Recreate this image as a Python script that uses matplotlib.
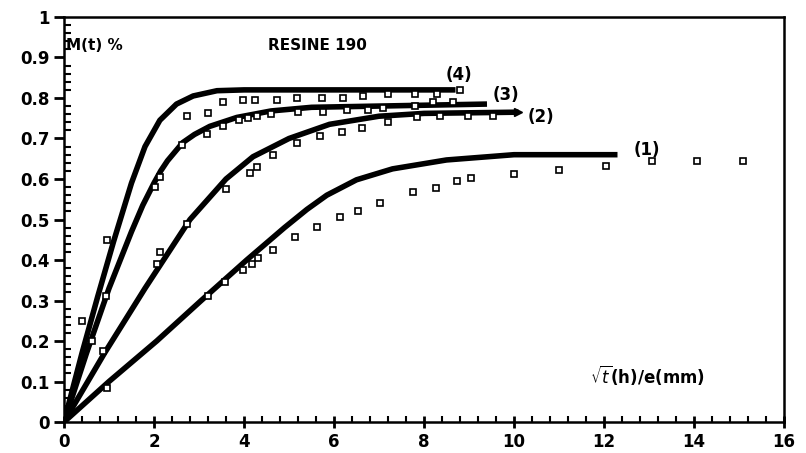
import numpy as np
import matplotlib

matplotlib.use("Agg")
import matplotlib.pyplot as plt
from matplotlib.ticker import MultipleLocator

# fitted curves
c1_x = [0, 1.0, 2.06, 3.05, 4.06, 4.9, 5.4, 5.84, 6.5, 7.3, 8.5, 10.0, 12.3]
c1_y = [0, 0.1, 0.2, 0.3, 0.4, 0.48, 0.525, 0.56, 0.598, 0.625, 0.647, 0.66, 0.66]
c2_x = [0, 0.9, 1.8, 2.3, 2.8, 3.6, 4.2, 5.0, 5.9, 7.0, 8.0, 10.1]
c2_y = [0, 0.17, 0.33, 0.415, 0.5, 0.6, 0.655, 0.7, 0.735, 0.755, 0.762, 0.765]
c3_x = [0, 0.5, 1.0, 1.5, 1.75, 2.0, 2.15, 2.3, 2.64, 2.9, 3.24, 3.84, 4.6, 5.5, 9.4]
c3_y = [0, 0.17, 0.33, 0.47, 0.535, 0.59, 0.62, 0.645, 0.69, 0.71, 0.73, 0.752, 0.768, 0.777, 0.785]
c4_x = [0, 0.4, 0.75, 1.1, 1.5, 1.8, 2.13, 2.5, 2.87, 3.4, 4.0, 8.7]
c4_y = [0, 0.17, 0.31, 0.445, 0.59, 0.68, 0.745, 0.785, 0.805, 0.818, 0.82, 0.82]

# measured points
p1_x = [0.95, 3.2, 3.58, 3.98, 4.18, 4.31, 4.65, 5.13, 5.62, 6.13, 6.53, 7.02,
        7.76, 8.27, 8.73, 9.04, 10.0, 11.0, 12.04, 13.07, 14.07, 15.09]
p1_y = [0.085, 0.31, 0.345, 0.375, 0.39, 0.405, 0.425, 0.457, 0.482, 0.507, 0.52, 0.54,
        0.568, 0.578, 0.596, 0.603, 0.613, 0.623, 0.632, 0.645, 0.645, 0.645]
p2_x = [0.87, 2.07, 2.13, 2.73, 3.6, 4.13, 4.3, 4.65, 5.18, 5.69, 6.18, 6.63,
        7.2, 7.84, 8.36, 8.98, 9.53]
p2_y = [0.175, 0.39, 0.42, 0.49, 0.575, 0.615, 0.63, 0.66, 0.69, 0.705, 0.717, 0.725,
        0.74, 0.754, 0.755, 0.755, 0.755]
p3_x = [0.62, 0.93, 2.02, 2.13, 2.62, 3.18, 3.53, 3.9, 4.1, 4.3, 4.6, 5.2, 5.75,
        6.3, 6.75, 7.1, 7.8, 8.2, 8.64]
p3_y = [0.2, 0.31, 0.58, 0.605, 0.685, 0.71, 0.73, 0.745, 0.75, 0.755, 0.76, 0.765, 0.765,
        0.77, 0.77, 0.775, 0.78, 0.79, 0.79]
p4_x = [0.4, 0.96, 2.73, 3.2, 3.54, 3.98, 4.24, 4.73, 5.18, 5.73, 6.2, 6.64,
        7.2, 7.8, 8.3, 8.8]
p4_y = [0.25, 0.45, 0.755, 0.763, 0.79, 0.795, 0.795, 0.795, 0.8, 0.8, 0.8, 0.805,
        0.81, 0.81, 0.81, 0.82]

labels = ["(1)", "(2)", "(3)", "(4)"]
label_pos = [(12.65, 0.672), (10.3, 0.754), (9.53, 0.808), (8.47, 0.857)]

fig = plt.figure(figsize=(8.06, 4.53), dpi=100)
ax = fig.add_axes([0.0794, 0.0684, 0.8933, 0.8941])

for cx, cy in [(c1_x, c1_y), (c2_x, c2_y), (c3_x, c3_y), (c4_x, c4_y)]:
    ax.plot(cx, cy, color="black", lw=4, solid_joinstyle="round", solid_capstyle="butt")
ax.plot(c2_x[-1], c2_y[-1], marker=">", color="black", ms=6)

for px, py in [(p1_x, p1_y), (p2_x, p2_y), (p3_x, p3_y), (p4_x, p4_y)]:
    ax.plot(px, py, ls="none", marker="s", ms=4.5, mfc="white", mec="black", mew=1.2)

for lab, (lx, ly) in zip(labels, label_pos):
    ax.text(lx, ly, lab, fontsize=12, fontweight="bold", va="center", ha="left")

ax.text(0.05, 0.93, "M(t) %", fontsize=11, fontweight="bold", va="center")
ax.text(4.53, 0.93, "RESINE 190", fontsize=11, fontweight="bold", va="center")
ax.text(11.7, 0.116, r"$\sqrt{t}$(h)/e(mm)", fontsize=12, fontweight="bold", va="center")

ax.set_xlim(0, 16)
ax.set_ylim(0, 1)
ax.xaxis.set_major_locator(MultipleLocator(2))
ax.xaxis.set_minor_locator(MultipleLocator(0.4))
ax.yaxis.set_major_locator(MultipleLocator(0.1))
ax.yaxis.set_minor_locator(MultipleLocator(0.02))
ax.set_yticks([0, 0.1, 0.2, 0.3, 0.4, 0.5, 0.6, 0.7, 0.8, 0.9, 1.0])
ax.set_yticklabels(["0", "0.1", "0.2", "0.3", "0.4", "0.5", "0.6", "0.7", "0.8", "0.9", "1"])
ax.tick_params(axis="y", which="major", direction="out", length=7, width=2, labelsize=12)
ax.tick_params(axis="y", which="minor", direction="in", length=5, width=1.5)
ax.tick_params(axis="x", which="major", direction="inout", length=9, width=2, labelsize=12)
ax.tick_params(axis="x", which="minor", direction="in", length=4, width=1.5)
for t in ax.get_xticklabels() + ax.get_yticklabels():
    t.set_fontweight("bold")
for s in ax.spines.values():
    s.set_linewidth(1.8)

fig.savefig("out.png", dpi=100)
